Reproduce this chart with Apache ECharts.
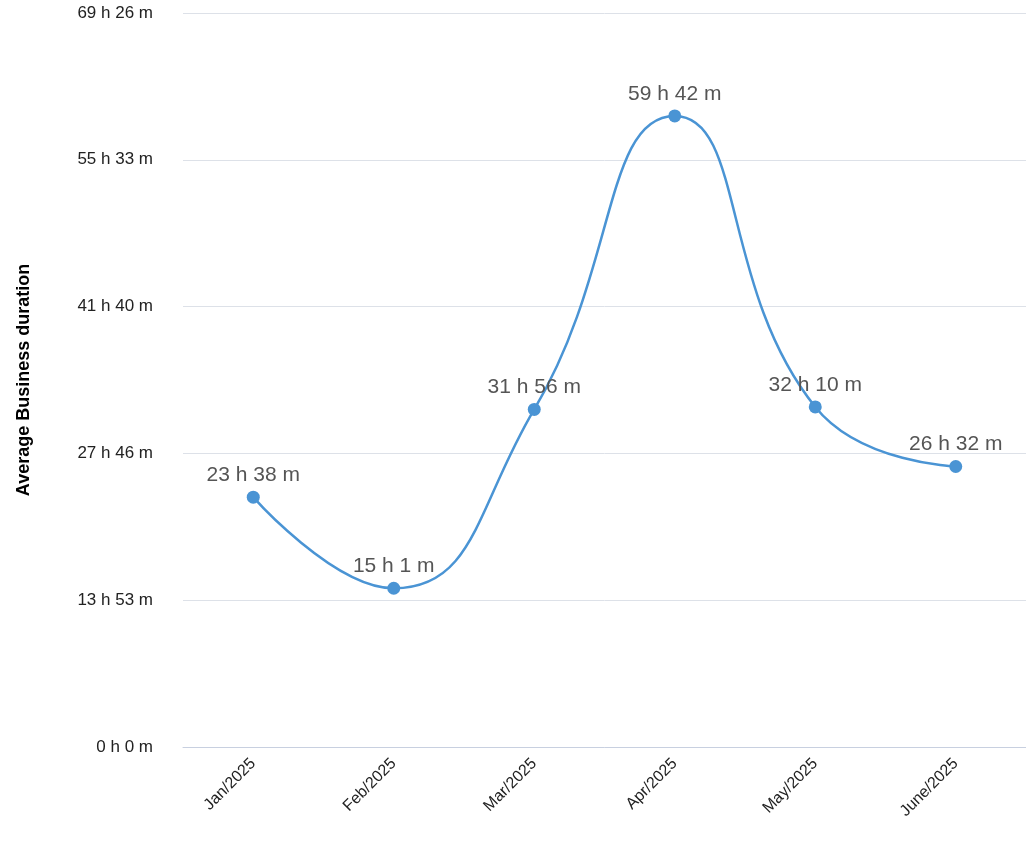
<!DOCTYPE html>
<html><head><meta charset="utf-8">
<script src="https://cdn.jsdelivr.net/npm/echarts@6/dist/echarts.min.js"></script>
<style>html,body{margin:0;padding:0;background:#fff}#c{width:1026px;height:862px}</style>
</head><body><div id="c"></div>
<script>
const categories = ["Jan/2025","Feb/2025","Mar/2025","Apr/2025","May/2025","June/2025"];
const valuesMinutes = [1418, 901, 1916, 3582, 1930, 1592];
const yMax = 4166;
const yInterval = 833.2;
function fmt(v){ const m = Math.round(v); return Math.floor(m/60) + " h " + (m%60) + " m"; }
const chart = echarts.init(document.getElementById('c'));
chart.setOption({
  animation:false,
  grid:{left:183,right:0,top:13,bottom:115},
  xAxis:{type:'category',data:categories,boundaryGap:true,
    axisLine:{lineStyle:{color:'#c8d0e0'}},axisTick:{show:false},
    axisLabel:{rotate:45,color:'#222',fontSize:16,fontFamily:'Liberation Sans, Arial',margin:14}},
  yAxis:{type:'value',min:0,max:yMax,interval:yInterval,
    name:'Average Business duration',nameLocation:'middle',nameGap:150,
    nameTextStyle:{fontSize:18,fontWeight:'bold',color:'#000',fontFamily:'Liberation Sans, Arial'},
    axisLabel:{formatter:fmt,color:'#222',fontSize:17,fontFamily:'Liberation Sans, Arial',margin:30},
    splitLine:{lineStyle:{color:'#dde1e8'}}},
  series:[{type:'line',data:valuesMinutes,smooth:0.5,symbol:'circle',symbolSize:13,
    lineStyle:{color:'#4a94d4',width:2.5},itemStyle:{color:'#4a94d4'},
    label:{show:true,position:'top',formatter:p=>fmt(p.value),color:'#555',fontSize:21,
      fontFamily:'Liberation Sans, Arial',distance:5}}]
});
</script></body></html>
